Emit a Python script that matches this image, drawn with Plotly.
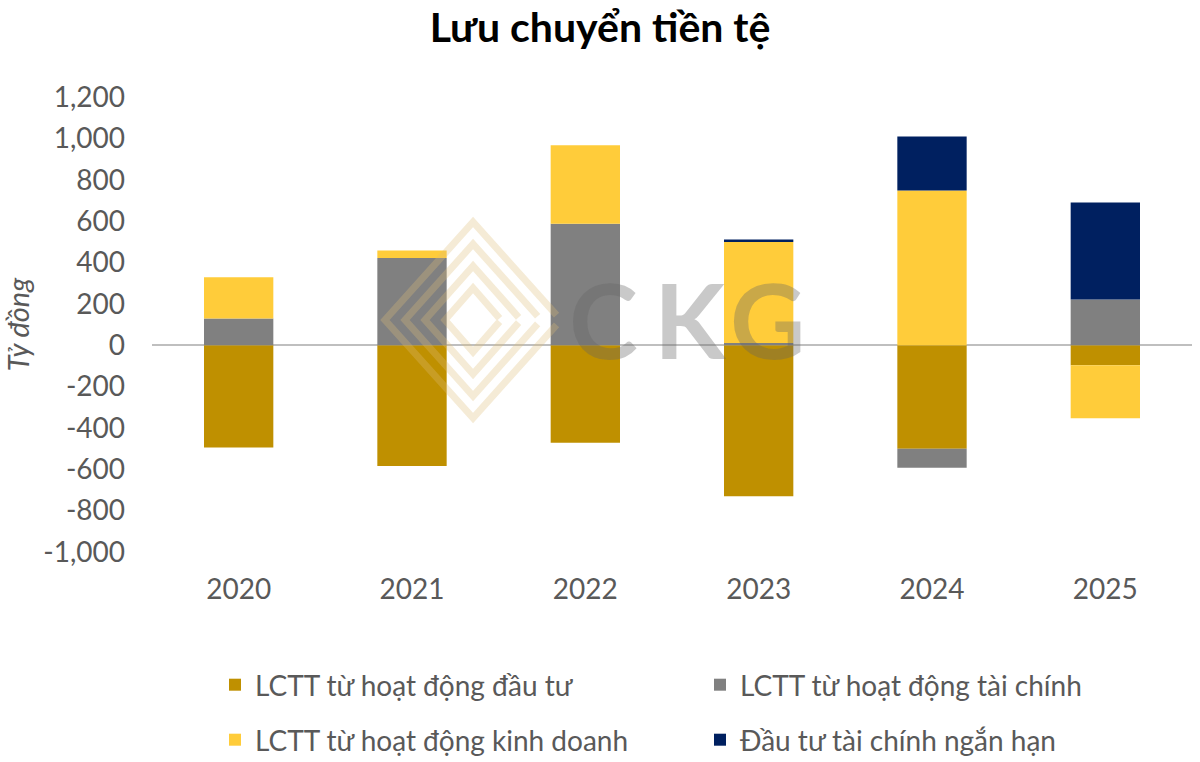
import plotly.graph_objects as go

years = ["2020", "2021", "2022", "2023", "2024", "2025"]
dau_tu = [-495, -584, -472, -730, -501, -97]
tai_chinh = [129, 422, 587, 10, -92, 221]
kinh_doanh = [200, 36, 380, 489, 748, -256]
ngan_han = [0, 0, 0, 12, 261, 469]

names = ["LCTT từ hoạt động đầu tư", "LCTT từ hoạt động tài chính",
         "LCTT từ hoạt động kinh doanh", "Đầu tư tài chính ngắn hạn"]
colors = ["#BF9000", "#808080", "#FFCC3A", "#002060"]
series = [dau_tu, tai_chinh, kinh_doanh, ngan_han]
legend_ids = ["legend", "legend", "legend2", "legend2"]

y_ticks = [1200, 1000, 800, 600, 400, 200, 0, -200, -400, -600, -800, -1000]
y_tick_text = ["1,200", "1,000", "800", "600", "400", "200", "0",
               "-200", "-400", "-600", "-800", "-1,000"]

W, H = 1200, 762
L, R, T, B = 152, 8, 97, 210
PW, PH = W - L - R, H - T - B


def px(x):
    return (x - L) / PW


def py(y):
    return (H - B - y) / PH


fig = go.Figure()
for n, c, s, lg in zip(names, colors, series, legend_ids):
    fig.add_trace(go.Bar(x=years, y=s, name=n, legend=lg,
                         marker=dict(color=c, line=dict(width=0))))

leg_common = dict(orientation="h", xref="container", yref="container",
                  x=215 / W, xanchor="left", yanchor="middle",
                  entrywidth=440, entrywidthmode="pixels", traceorder="normal",
                  font=dict(family="Lato", size=28, color="#595959"),
                  bgcolor="rgba(0,0,0,0)")

fig.update_layout(
    barmode="relative",
    bargap=0.6,
    width=W, height=H,
    margin=dict(l=L, r=R, t=T, b=B),
    paper_bgcolor="white", plot_bgcolor="white",
    font=dict(family="Lato", color="#595959", size=28),
    title=dict(text="<b>Lưu chuyển tiền tệ</b>", x=0.5, xanchor="center",
               y=1 - 28 / H, yanchor="middle",
               font=dict(family="Lato", size=41, color="black")),
    showlegend=True,
    legend=dict(leg_common, y=1 - 685 / H),
    legend2=dict(leg_common, y=1 - 740 / H),
)
fig.update_xaxes(showgrid=False, showline=False, ticks="", ticklabelstandoff=18,
                 tickfont=dict(size=28, color="#595959"))
fig.update_yaxes(range=[-1000, 1200], tickvals=y_ticks, ticktext=y_tick_text,
                 showgrid=False, zeroline=True, zerolinecolor="#BFBFBF", zerolinewidth=2,
                 ticks="", ticklabelstandoff=26,
                 title=dict(text="<i>Tỷ đồng</i>", standoff=6,
                            font=dict(size=29, color="#595959")),
                 tickfont=dict(size=28, color="#595959"))

# watermark: CKG logo (decorative)
cx, cy = 473, 320
for k in range(4):
    h = 98 - 22 * k
    w = 88 - 20 * k
    pts = [(cx + w * 0.95, cy - h * 0.05), (cx, cy - h), (cx - w, cy),
           (cx, cy + h), (cx + w * 0.95, cy + h * 0.05)]
    path = "M " + " L ".join(f"{px(a):.4f},{py(b):.4f}" for a, b in pts)
    fig.add_shape(type="path", path=path, xref="paper", yref="paper",
                  line=dict(color="rgba(222,190,120,0.3)", width=7), layer="above")

for letter, xc in zip(["C", "K", "G"], [603, 690, 768]):
    fig.add_annotation(text=f"<b>{letter}</b>", xref="paper", yref="paper",
                       x=px(xc), y=py(318), showarrow=False,
                       font=dict(family="Lato", size=104, color="rgba(100,100,100,0.35)"))

fig.write_html("out.html")
